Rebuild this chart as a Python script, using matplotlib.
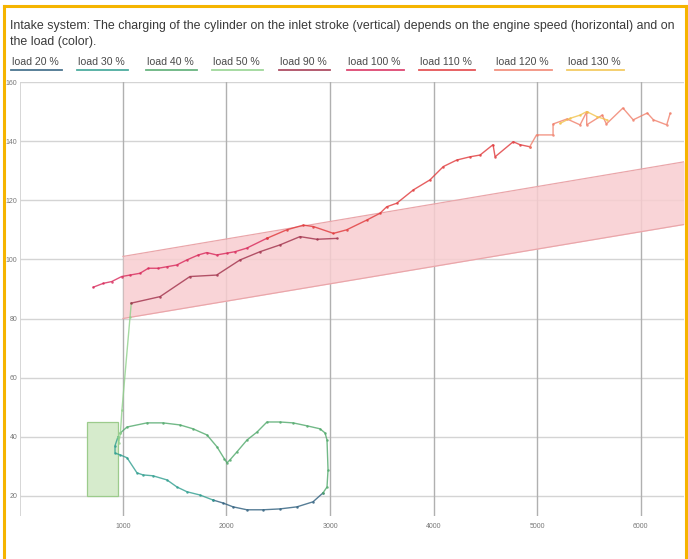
import matplotlib
matplotlib.use("Agg")
import matplotlib.pyplot as plt
from matplotlib.lines import Line2D
from matplotlib.patches import Rectangle
import numpy as np

plt.rcParams["font.family"] = ["Liberation Sans", "DejaVu Sans"]

# ------------------------------------------------------------
# data: engine speed (rpm) vs. cylinder charging, per load level
# ------------------------------------------------------------
TITLE_LINES = ["Intake system: The charging of the cylinder on the inlet stroke (vertical) "
               "depends on the engine speed (horizontal) and on",
               "the load (color)."]

LOADS = ["load 20 %", "load 30 %", "load 40 %", "load 50 %", "load 90 %",
         "load 100 %", "load 110 %", "load 120 %", "load 130 %"]
COLORS = ["#2c5d7c", "#2f9e8f", "#4fa86a", "#8fd18a", "#a0304a",
          "#d8285a", "#e0383a", "#f07f6a", "#f2c24a"]

load20_x = [2932, 2836, 2681, 2517, 2353, 2198, 2063, 1966, 1870]
load20_y = [21.0, 18.0, 16.3, 15.6, 15.3, 15.3, 16.3, 17.6, 18.6]

load30_x = [1870, 1744, 1618, 1522, 1425, 1290, 1193, 1135, 1039, 971, 923, 923, 952]
load30_y = [18.6, 20.3, 21.4, 23.0, 25.4, 26.8, 27.1, 27.8, 32.9, 33.9, 34.5, 37.0, 40.0]

load40_x = [975, 1039, 1232, 1387, 1551, 1676, 1812, 1908, 1980, 2005, 2034, 2101,
            2198, 2295, 2391, 2517, 2643, 2778, 2903, 2952, 2971, 2981, 2971, 2932]
load40_y = [41.3, 43.3, 44.7, 44.7, 44.0, 42.7, 40.6, 36.6, 32.5, 31.2, 32.2, 34.9,
            38.9, 41.6, 45.0, 45.0, 44.7, 43.7, 42.7, 41.3, 38.9, 28.8, 23.0, 21.0]

load50_x = [952, 960, 975, 990, 1068, 1080]
load50_y = [40.0, 38.0, 41.3, 49.1, 80.5, 85.2]

load90_x = [1080, 1358, 1647, 1905, 2130, 2324, 2517, 2710, 2871, 3065]
load90_y = [85.2, 87.4, 94.2, 94.7, 99.8, 102.6, 104.9, 107.7, 106.8, 107.1]

load100_x = [713, 810, 891, 987, 1068, 1164, 1245, 1341, 1422, 1519, 1616, 1728,
             1809, 1905, 2002, 2082, 2195, 2388]
load100_y = [90.6, 91.9, 92.5, 94.2, 94.7, 95.3, 97.0, 97.0, 97.5, 98.1, 99.8, 101.5,
             102.3, 101.5, 102.1, 102.6, 103.8, 107.1]

load110_x = [2388, 2582, 2743, 2840, 3033, 3161, 3355, 3483, 3548, 3645, 3805, 3966,
             4095, 4224, 4353, 4450, 4575, 4595, 4770, 4835, 4930]
load110_y = [107.1, 110.0, 111.6, 111.1, 108.8, 110.0, 113.3, 115.6, 117.8, 119.0, 123.5, 126.9,
             131.4, 133.6, 134.7, 135.3, 138.8, 134.7, 139.8, 138.8, 138.1]

load120_x = [4930, 4995, 5155, 5155, 5290, 5416, 5480, 5480, 5630, 5670, 5830, 5929,
             6065, 6125, 6253, 6286]
load120_y = [138.1, 142.1, 142.1, 145.8, 147.5, 145.5, 149.9, 145.5, 148.8, 145.8, 151.2, 147.2,
             149.5, 147.2, 145.5, 149.4]

load130_x = [5222, 5319, 5416, 5480, 5577, 5674]
load130_y = [146.0, 147.7, 148.8, 150.0, 148.3, 147.2]

SERIES = [(load20_x, load20_y), (load30_x, load30_y), (load40_x, load40_y),
          (load50_x, load50_y), (load90_x, load90_y), (load100_x, load100_y),
          (load110_x, load110_y), (load120_x, load120_y), (load130_x, load130_y)]

# target band (high load) and idle window
band_x = [1000, 6420]
band_lo = [80.0, 111.8]
band_hi = [101.0, 133.0]

idle_x = [650, 950]
idle_y = [20.0, 45.0]

X_TICKS = [1000, 2000, 3000, 4000, 5000, 6000]
Y_TICKS = [20, 40, 60, 80, 100, 120, 140, 160]

# ------------------------------------------------------------
# figure
# ------------------------------------------------------------
W, H = 688, 559
fig = plt.figure(figsize=(W / 100, H / 100), dpi=100)
ax = fig.add_axes([20 / W, 1 - 516 / H, 664 / W, (516 - 82) / H])
ax.set_xlim(5, 6420)
ax.set_ylim(13.2, 160)

for s in ax.spines.values():
    s.set_visible(False)
ax.axvline(5, color="#cfcfcf", lw=1.2, zorder=1)

for yt in Y_TICKS:
    ax.axhline(yt, color="#d4d4d4", lw=1.0, zorder=1)
for xt in X_TICKS:
    ax.axvline(xt, color="#b0b0b0", lw=1.0, zorder=1)

ax.set_xticks(X_TICKS)
ax.set_yticks(Y_TICKS)
ax.tick_params(axis="both", length=0, labelsize=5, labelcolor="#777777")
ax.tick_params(axis="x", pad=5)
ax.tick_params(axis="y", pad=2)

# high-load band
ax.fill_between(band_x, band_lo, band_hi, color="#f8cdd0", alpha=0.85, lw=0, zorder=2)
ax.plot(band_x, band_lo, color="#eaa6aa", lw=0.9, zorder=2)
ax.plot(band_x, band_hi, color="#eaa6aa", lw=0.9, zorder=2)

# idle window
ax.add_patch(Rectangle((idle_x[0], idle_y[0]), idle_x[1] - idle_x[0], idle_y[1] - idle_y[0],
                       facecolor="#d6ebcc", edgecolor="#9ccb8c", lw=0.9, zorder=2))

for (xs, ys), c in zip(SERIES, COLORS):
    ax.plot(xs, ys, color=c, lw=1.0, marker="o", ms=1.8, mew=0, alpha=0.8, zorder=3)

# title, two lines
for line, ypx in zip(TITLE_LINES, [26, 42]):
    fig.text(10 / W, 1 - ypx / H, line, ha="left", va="center", fontsize=8.9,
             color="#3a3a3a")

# legend: labels with a coloured underline
leg_x = [12, 78, 147, 213, 280, 348, 420, 496, 568]
fig.canvas.draw()
renderer = fig.canvas.get_renderer()
for lbl, c, x0 in zip(LOADS, COLORS, leg_x):
    t = fig.text(x0 / W, 1 - 62 / H, lbl, ha="left", va="center", fontsize=7.6,
                 color="#4a4a4a")
    bb = t.get_window_extent(renderer)
    fig.add_artist(Line2D([(x0 - 1) / W, (bb.x1 + 3) / W], [1 - 69.5 / H, 1 - 69.5 / H],
                          color=c, lw=1.3, alpha=0.85, transform=fig.transFigure))

# orange frame
frame = "#f5b400"
fig.add_artist(Line2D([4 / W, 4 / W], [0, 1 - 6 / H], color=frame, lw=2.2, transform=fig.transFigure))
fig.add_artist(Line2D([4 / W, 686 / W], [1 - 6 / H, 1 - 6 / H], color=frame, lw=2.2, transform=fig.transFigure))
fig.add_artist(Line2D([686 / W, 686 / W], [0, 1 - 6 / H], color=frame, lw=2.2, transform=fig.transFigure))

fig.savefig("out.png", dpi=100)
